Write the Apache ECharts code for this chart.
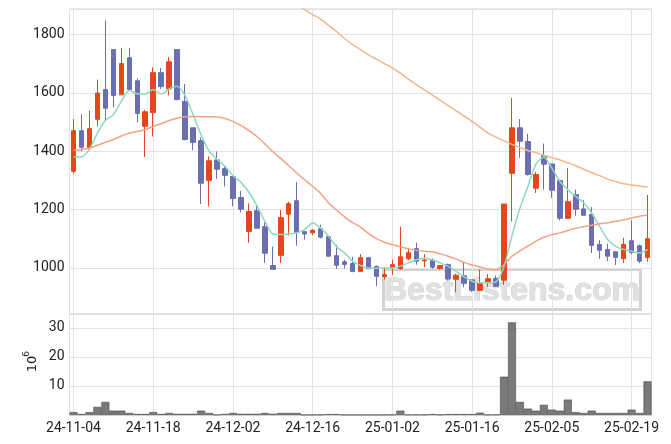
<!DOCTYPE html>
<html><head><meta charset="utf-8">
<script src="https://cdn.jsdelivr.net/npm/echarts@6/dist/echarts.min.js"></script>
<style>html,body{margin:0;padding:0;background:#fff}#c{width:671px;height:444px}</style>
</head><body><div id="c"></div>
<script>
const dates = [
 '24-11-04','24-11-05','24-11-06','24-11-07','24-11-08','24-11-11','24-11-12','24-11-13','24-11-14','24-11-15',
 '24-11-18','24-11-19','24-11-20','24-11-21','24-11-22','24-11-25','24-11-26','24-11-27','24-11-28','24-11-29',
 '24-12-02','24-12-03','24-12-04','24-12-05','24-12-06','24-12-09','24-12-10','24-12-11','24-12-12','24-12-13',
 '24-12-16','24-12-17','24-12-18','24-12-19','24-12-20','24-12-23','24-12-24','24-12-26','24-12-27','24-12-30',
 '25-01-02','25-01-03','25-01-06','25-01-07','25-01-08','25-01-09','25-01-10','25-01-13','25-01-14','25-01-15',
 '25-01-16','25-01-17','25-01-20','25-01-21','25-01-22','25-01-23','25-01-24','25-01-31',
 '25-02-03','25-02-04','25-02-05','25-02-06','25-02-07','25-02-10','25-02-11','25-02-12','25-02-13','25-02-14',
 '25-02-17','25-02-18','25-02-19','25-02-20','25-02-21'
];
const opens = [1331,1470,1411,1509,1611,1748,1593,1720,1641,1485,1532,1669,1613,1748,1570,1480,1436,1299,1370,1340,
 1313,1241,1125,1196,1141,1008,1043,1184,1230,1124,1120,1134,1107,1042,1021,1015,988,1035,1005,970,
 1000,997,1031,1066,1024,1025,998,1011,961,973,959,923,953,964,958,1324,1480,1433,1273,1384,
 1356,1299,1170,1251,1202,1183,1080,1063,1055,1032,1093,1076,1036];
const closes = [1470,1413,1477,1599,1547,1591,1700,1611,1529,1535,1669,1621,1706,1577,1440,1430,1290,1367,1338,1317,
 1238,1201,1193,1136,1050,995,1172,1220,1122,1116,1129,1105,1040,1009,1012,988,1035,997,971,977,
 1011,1038,1052,1023,1027,1002,1008,962,975,947,923,946,963,937,1219,1480,1434,1320,1320,1355,
 1266,1170,1227,1201,1180,1077,1060,1040,1036,1080,1053,1023,1100];
const lows = [1323,1399,1403,1485,1505,1550,1593,1611,1499,1380,1450,1613,1591,1574,1437,1403,1219,1211,1305,1279,
 1211,1190,1086,1136,1017,995,1017,1111,1076,1097,1113,1101,1040,997,998,985,988,997,937,960,
 976,994,1026,1011,1003,997,994,957,916,934,918,920,935,937,942,1159,1377,1316,1257,1268,
 1240,1163,1168,1179,1180,1051,1031,1023,1010,1017,1047,1017,1021];
const highs = [1510,1527,1539,1645,1848,1748,1753,1753,1649,1541,1687,1685,1723,1748,1630,1480,1447,1382,1399,1348,
 1317,1264,1221,1213,1156,1073,1199,1227,1294,1124,1132,1148,1107,1079,1028,1038,1047,1038,1008,1003,
 1028,1141,1066,1086,1047,1033,1008,1015,980,1018,959,994,979,974,1219,1582,1510,1459,1329,1426,
 1356,1299,1342,1268,1232,1208,1095,1083,1055,1103,1163,1080,1250];
const volumes = [1.0,0.35,1.0,2.8,4.5,1.5,1.5,0.7,0.35,0.35,
 1.0,0.35,0.7,0.4,0.4,0.4,1.5,0.7,0.1,0.35,
 0.7,0.4,0.4,0.4,0.7,0.4,0.7,0.7,0.7,0.05,
 0.05,0.1,0.3,0.3,0.05,0.05,0.05,0.05,0.05,0.05,
 0.1,1.5,0.1,0.1,0.1,0.3,0.1,0.3,0.3,0.3,
 0.3,0.8,0.1,0.1,13.2,31.9,4.5,2.2,1.5,3.5,
 1.85,1.5,5.3,1.0,0.7,1.5,0.7,0.7,0.7,0.7,
 1.85,0.7,11.6];
const ma5 = [1380,1380,1407,1462,1505,1525,1570,1608,1597,1596,1611,1596,1613,1622,1590,1525,1456,1400,1372,1348,
 1316,1293,1259,1213,1160,1116,1114,1116,1120,1131,1154,1137,1108,1072,1051,1023,1008,1000,999,1000,
 1000,1006,1017,1028,1032,1028,1017,1005,988,969,954,949,949,952,1005,1110,1205,1279,1355,1380,
 1342,1297,1268,1245,1223,1188,1142,1097,1074,1063,1057,1051,1063];
const ma20 = [1403,1405,1411,1420,1430,1440,1452,1462,1467,1474,1485,1494,1505,1513,1518,1519,1518,1518,1517,1512,
 1502,1488,1470,1450,1425,1398,1375,1350,1325,1302,1279,1255,1222,1198,1175,1155,1140,1118,1100,1088,
 1080,1072,1066,1060,1057,1055,1048,1040,1030,1019,1010,1003,996,994,1012,1040,1058,1075,1092,1105,
 1114,1120,1128,1136,1141,1146,1151,1155,1160,1164,1171,1177,1181];
const ma60 = [null,null,null,null,null,null,null,null,null,null,null,null,null,null,null,null,null,null,null,null,
 null,null,null,null,null,null,null,1925,1905,1885,1868,1852,1831,1810,1786,1765,1748,1730,1715,1700,
 1685,1667,1647,1628,1610,1592,1574,1556,1538,1520,1502,1482,1462,1448,1435,1423,1413,1402,1395,1386,
 1378,1370,1360,1350,1338,1326,1316,1304,1296,1288,1284,1280,1278];
const volumeUnitLabel = ['10', '6'];
const watermarkText = 'BestListens.com';

const UP = '#e5461b', DOWN = '#6b6fb2';
const GRID_C = '#e2e2e2', FONT = 'Roboto';
const candles = dates.map((d, i) => [opens[i], closes[i], lows[i], highs[i]]);
const L = 69.5, R = 19.5;

const chart = echarts.init(document.getElementById('c'), null, {renderer: 'canvas'});
chart.setOption({
  animation: false,
  backgroundColor: '#fff',
  grid: [
    {left: L, right: R, top: 9, height: 305, show: true, borderColor: '#d4d4d4', borderWidth: 1},
    {left: L, right: R, top: 314, height: 101, show: true, borderColor: '#d4d4d4', borderWidth: 1}
  ],
  xAxis: [
    {type: 'category', gridIndex: 0, position: 'bottom', data: dates, boundaryGap: true, show: false},
    {type: 'value', gridIndex: 0, position: 'bottom', min: -0.5, max: dates.length - 0.5, minInterval: 10, maxInterval: 10,
     axisLine: {show: false}, axisTick: {show: false}, axisLabel: {show: false},
     splitLine: {show: true, lineStyle: {color: GRID_C, width: 1}}},
    {type: 'category', gridIndex: 1, position: 'bottom', data: dates, boundaryGap: true, show: false},
    {type: 'value', gridIndex: 1, position: 'bottom', min: -0.5, max: dates.length - 0.5, minInterval: 10, maxInterval: 10,
     axisLine: {show: false}, axisTick: {show: false},
     axisLabel: {show: true, showMinLabel: false, showMaxLabel: false, margin: 6,
       fontFamily: FONT, fontSize: 14, color: '#222',
       formatter: v => (Number.isInteger(v) && dates[v]) ? dates[v] : ''},
     splitLine: {show: true, lineStyle: {color: GRID_C, width: 1}}}
  ],
  yAxis: [
    {type: 'value', gridIndex: 0, min: 842, max: 1887, minInterval: 200, maxInterval: 200, scale: true,
     axisLine: {show: false}, axisTick: {show: false},
     axisLabel: {showMinLabel: false, showMaxLabel: false, margin: 5, fontFamily: FONT, fontSize: 14, color: '#222',
       formatter: v => String(v)},
     splitLine: {show: true, lineStyle: {color: GRID_C, width: 1}}},
    {type: 'value', gridIndex: 1, min: 0, max: 34.8, interval: 10,
     axisLine: {show: false}, axisTick: {show: false},
     axisLabel: {showMinLabel: false, showMaxLabel: false, margin: 5, fontFamily: FONT, fontSize: 14, color: '#222',
       formatter: v => String(v)},
     splitLine: {show: true, lineStyle: {color: GRID_C, width: 1}}}
  ],
  series: [
    {type: 'candlestick', xAxisIndex: 0, yAxisIndex: 0, data: candles, barWidth: 5, z: 3,
     itemStyle: {color: UP, color0: DOWN, borderColor: UP, borderColor0: DOWN, borderWidth: 1}},
    {type: 'line', xAxisIndex: 0, yAxisIndex: 0, data: ma5, showSymbol: false, smooth: 0.25, z: 4,
     lineStyle: {color: '#8fd8bd', width: 1.5}},
    {type: 'line', xAxisIndex: 0, yAxisIndex: 0, data: ma20, showSymbol: false, smooth: 0.25, z: 4,
     lineStyle: {color: '#f2a385', width: 1.5}},
    {type: 'line', xAxisIndex: 0, yAxisIndex: 0, data: ma60, showSymbol: false, smooth: 0.25, z: 4, connectNulls: false,
     lineStyle: {color: '#f0b68c', width: 1.5}},
    {type: 'bar', xAxisIndex: 2, yAxisIndex: 1, data: volumes, barWidth: '100%', z: 3,
     itemStyle: {color: '#7a7a7a', borderColor: '#4a4a4a', borderWidth: 0.6}}
  ],
  graphic: [
    {type: 'group', x: 33, y: 364, rotation: Math.PI / 2, children: [
      {type: 'text', x: 0, y: 0, style: {text: volumeUnitLabel[0], font: '13px "DejaVu Sans"', fill: '#222', align: 'center', verticalAlign: 'middle'}},
      {type: 'text', x: 10, y: -6, style: {text: volumeUnitLabel[1], font: '9px "DejaVu Sans"', fill: '#222', align: 'center', verticalAlign: 'middle'}}
    ]},
    {type: 'group', z: 1, children: [
      {type: 'rect', shape: {x: 383.5, y: 269.5, width: 257, height: 40}, style: {fill: 'rgba(255,255,255,0)', stroke: '#d2d2d2', lineWidth: 3}},
      {type: 'text', x: 512, y: 291, style: {text: watermarkText, font: 'bold 32px "Liberation Sans"', fill: '#e1e1e1', stroke: '#cfcfcf', lineWidth: 1, align: 'center', verticalAlign: 'middle'}}
    ]}
  ]
});
</script>
</body></html>
